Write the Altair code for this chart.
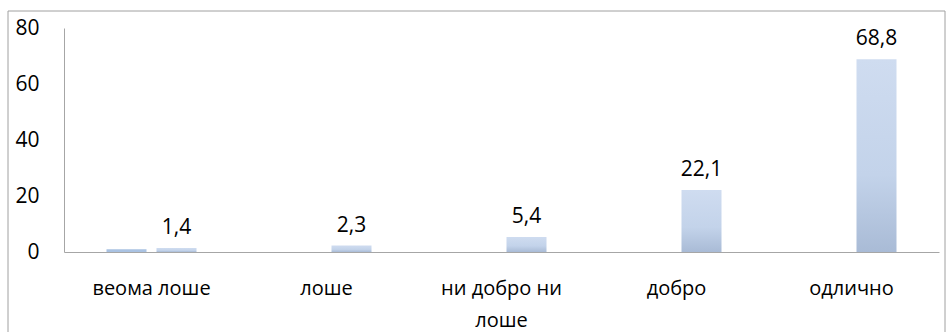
import altair as alt
import pandas as pd

categories = ["веома лоше", "лоше", "ни добро ни лоше", "добро", "одлично"]
series_a = [1.0, None, None, None, None]
series_b = [1.4, 2.3, 5.4, 22.1, 68.8]
y_ticks = [0, 20, 40, 60, 80]

rows = []
for c, a, b in zip(categories, series_a, series_b):
    rows.append({"cat": c, "series": "a", "value": a,
                 "label": ""})
    rows.append({"cat": c, "series": "b", "value": b,
                 "label": f"{b:.1f}".replace(".", ",")})
df = pd.DataFrame(rows)

FONT = "Open Sans"
FS = 20

grad = alt.Gradient(
    gradient="linear", x1=0, x2=0, y1=0, y2=1,
    stops=[alt.GradientStop(color="#cfdcf0", offset=0),
           alt.GradientStop(color="#c3d3ea", offset=0.6),
           alt.GradientStop(color="#a9bbd6", offset=1)],
)

x_enc = alt.X(
    "cat:N", sort=categories, title=None,
    scale=alt.Scale(paddingInner=0, paddingOuter=0),
    axis=alt.Axis(
        labelAngle=0, ticks=False, labelPadding=26, labelFontSize=FS,
        labelFont=FONT, labelColor="#000000", domainColor="#a6a6a6",
        labelLineHeight=32, labelLimit=200,
        labelExpr="datum.label == 'ни добро ни лоше' ? ['ни добро ни', 'лоше'] : datum.label",
    ),
)
y_enc = alt.Y(
    "value:Q", title=None,
    scale=alt.Scale(domain=[0, 80]),
    axis=alt.Axis(values=y_ticks, grid=False, ticks=False, labelPadding=25,
                  labelFontSize=FS + 1, labelFont=FONT, labelColor="#000000",
                  domainColor="#a6a6a6"),
)

base = alt.Chart(df).transform_filter("datum.series == 'b'")

bars_a = alt.Chart(df).transform_filter(
    "datum.series == 'a' && isValid(datum.value)"
).mark_bar(color="#a9c2e2", size=40, xOffset=-25).encode(x=x_enc, y=y_enc)

bars_b = base.mark_bar(color=grad, size=40, xOffset=25).encode(x=x_enc, y=y_enc)

labels = base.mark_text(
    baseline="bottom", dy=-10, dx=25, font=FONT, fontSize=FS + 1, color="#000000"
).encode(x=x_enc, y=y_enc, text="label:N")

frame = alt.Chart(df).mark_rect(
    fill=None, stroke="#a0a0a0", strokeWidth=1
).encode(
    x=alt.value(-56), x2=alt.value(881), y=alt.value(-17), y2=alt.value(310)
).transform_filter("datum.series == 'b' && datum.cat == 'одлично'")

chart = alt.layer(frame, bars_a, bars_b, labels).properties(
    width=875, height=224,
    autosize=alt.AutoSizeParams(type="none"),
    padding={"left": 64, "top": 28, "right": 7, "bottom": 80},
    background="#ffffff",
).configure_view(stroke=None)

chart.save("out.html", embed_options={"renderer": "svg", "actions": False})
